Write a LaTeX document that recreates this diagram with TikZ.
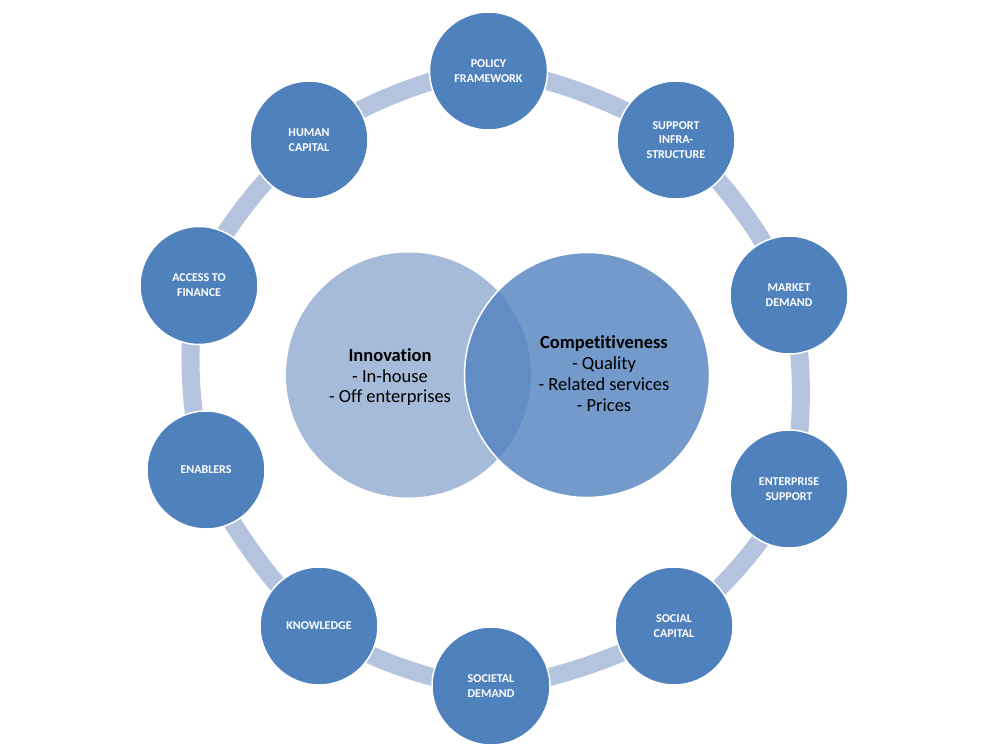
\documentclass[tikz,border=0pt]{standalone}
\usepackage{fontspec}
\setmainfont{Carlito}[Ligatures={NoCommon}]
\usepackage{tikz}
\usetikzlibrary{positioning,backgrounds}
\definecolor{factorblue}{RGB}{79,129,189}
\definecolor{ringlight}{RGB}{180,196,222}
\definecolor{innolight}{RGB}{166,187,217}
\definecolor{compblue}{RGB}{84,132,192}

\begin{document}
\begin{tikzpicture}[
    x=1pt, y=-1pt,
    factor/.style={circle, draw=white, line width=1.5pt, fill=factorblue, minimum size=118pt, inner sep=0pt, align=center, text=white, font=\fontsize{12}{14.8}\selectfont\bfseries},
    venn/.style={circle, minimum size=245pt, inner sep=0pt},
    vennlabel/.style={align=center, inner sep=0pt, font=\fontsize{18.5}{20.8}\selectfont},
    ringband/.style={draw=ringlight, line width=18pt}
  ]
\useasboundingbox (0,0) rectangle (981,749);

% factors round the ring
\node[factor] (policy)     at (488.5,71)  {POLICY\\FRAMEWORK};
\node[factor] (support)    at (676,140)   {SUPPORT\\INFRA-\\STRUCTURE};
\node[factor] (market)     at (789,295)   {MARKET\\DEMAND};
\node[factor] (enterprise) at (789,489)   {ENTERPRISE\\SUPPORT};
\node[factor] (social)     at (674,626)   {SOCIAL\\CAPITAL};
\node[factor] (societal)   at (491,686)   {SOCIETAL\\DEMAND};
\node[factor] (knowledge)  at (319,626)   {KNOWLEDGE};
\node[factor] (enablers)   at (206,470)   {ENABLERS};
\node[factor] (finance)    at (199,285.5) {ACCESS TO\\FINANCE};
\node[factor] (human)      at (309,140)   {HUMAN\\CAPITAL};

\begin{scope}[on background layer]
  \draw[ringband] plot[smooth cycle] coordinates {(policy.center) (support.center) (market.center) (enterprise.center) (social.center) (societal.center) (knowledge.center) (enablers.center) (finance.center) (human.center)};
\end{scope}

% venn in the middle
\node[venn, fill=innolight] (innovation) at (408.5,375) {};
\node[venn, fill=compblue, fill opacity=0.82, text opacity=1, draw=white, line width=1.5pt] (compet) at (587,375) {};

\node[vennlabel] (innotext) at (390,377) {\textbf{Innovation}\\- In-house\\- Off enterprises};
\node[vennlabel] (comptext) at (604,373.5) {\textbf{Competitiveness}\\- Quality\\- Related services\\- Prices};

\end{tikzpicture}
\end{document}
